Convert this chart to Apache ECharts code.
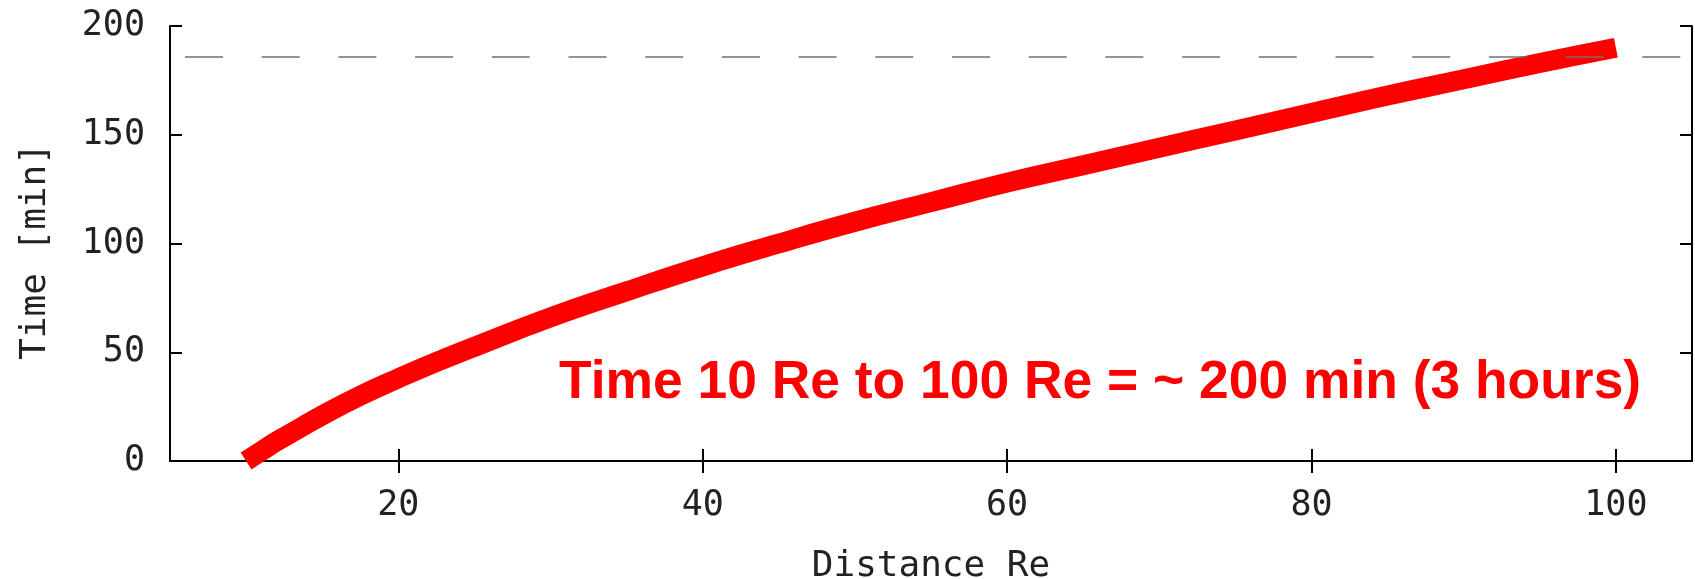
<!DOCTYPE html>
<html>
<head>
<meta charset="utf-8">
<script src="https://cdn.jsdelivr.net/npm/echarts@6/dist/echarts.min.js"></script>
<style>
  html, body { margin: 0; padding: 0; background: #fff; }
</style>
</head>
<body>
<div id="chart" style="width: 1695px; height: 579px;"></div>
<script>
// distance (Re) and travel time (min)
var distance = [10, 11, 12, 13.5, 15, 17.5, 20, 22.5, 25, 30, 35, 40, 45, 50, 55, 60, 65, 70, 75, 80, 85, 90, 95, 100];
var timeMin  = [0, 4.5, 9, 15, 21, 30, 38, 45.5, 52.5, 66, 78, 89.5, 100, 110, 119, 128, 136, 144, 152, 160, 168, 175.5, 183, 190];
var refLine = 186;
var xTicks = [20, 40, 60, 80, 100];
var yTicks = [0, 50, 100, 150, 200];

var monoFont = '"DejaVu Sans Mono", monospace';
var axisLine = { show: true, lineStyle: { color: '#000', width: 2 } };
var axisTick = { show: true, inside: true, length: 12, lineStyle: { color: '#000', width: 2 } };

var myChart = echarts.init(document.getElementById('chart'));

var option = {
  animation: false,
  grid: { left: 170, right: 3, top: 26, bottom: 118, containLabel: false, outerBoundsMode: 'none' },
  xAxis: [
    {
      type: 'value', min: 5, max: 105, position: 'bottom',
      name: 'Distance Re', nameLocation: 'middle', nameGap: 88,
      nameTextStyle: { fontFamily: monoFont, fontSize: 36, color: '#222' },
      axisLine: axisLine,
      axisTick: Object.assign({ customValues: xTicks }, axisTick),
      axisLabel: { customValues: xTicks, fontFamily: monoFont, fontSize: 35, color: '#222', margin: 27 },
      splitLine: { show: false }
    },
    {
      type: 'value', min: 5, max: 105, position: 'top',
      axisLine: axisLine,
      axisTick: Object.assign({ customValues: xTicks }, axisTick),
      axisLabel: { show: false },
      splitLine: { show: false }
    }
  ],
  yAxis: [
    {
      type: 'value', min: 0, max: 200, interval: 50, position: 'left',
      name: 'Time [min]', nameLocation: 'middle', nameGap: 116, nameRotate: 90,
      nameTextStyle: { fontFamily: monoFont, fontSize: 36, color: '#222', padding: [0, 16, 0, 0] },
      axisLine: axisLine,
      axisTick: Object.assign({ customValues: yTicks }, axisTick),
      axisLabel: { fontFamily: monoFont, fontSize: 35, color: '#222', margin: 25 },
      splitLine: { show: false }
    },
    {
      type: 'value', min: 0, max: 200, interval: 50, position: 'right',
      axisLine: axisLine,
      axisTick: Object.assign({ customValues: yTicks }, axisTick),
      axisLabel: { show: false },
      splitLine: { show: false }
    }
  ],
  graphic: [
    {
      type: 'text', left: 559, top: 357, z: 100,
      style: {
        text: 'Time 10 Re to 100 Re = ~ 200 min (3 hours)',
        fill: '#ff0000',
        fontFamily: '"Liberation Sans", Arial, sans-serif',
        fontWeight: 'bold',
        fontSize: 53.4
      }
    }
  ],
  series: [
    {
      type: 'line',
      data: distance.map(function (d, i) { return [d, timeMin[i]]; }),
      smooth: true,
      showSymbol: false,
      clip: false,
      lineStyle: { color: '#ff0000', width: 20, cap: 'butt' },
      markLine: {
        silent: true,
        symbol: ['none', 'none'],
        label: { show: false },
        lineStyle: { color: '#707070', width: 1.5, type: [38, 38.7], dashOffset: 61.7 },
        data: [{ yAxis: refLine }]
      }
    }
  ]
};

myChart.setOption(option);
</script>
</body>
</html>
